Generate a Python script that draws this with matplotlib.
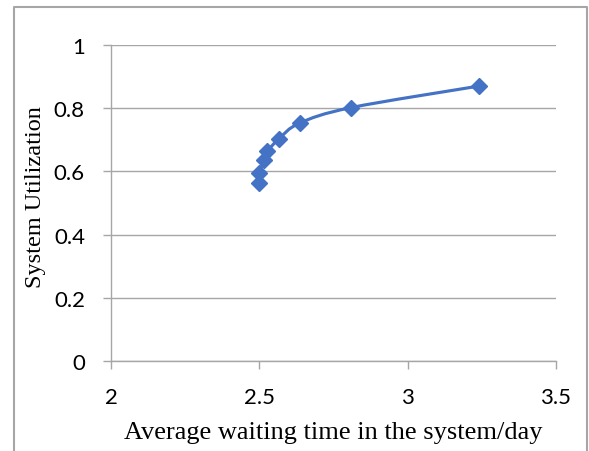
import matplotlib
matplotlib.use('Agg')
import matplotlib.pyplot as plt
from matplotlib.path import Path
from matplotlib.patches import PathPatch
from matplotlib.lines import Line2D
import numpy as np

# waiting time (days) vs utilization
waiting_time = [2.50, 2.50, 2.517, 2.527, 2.566, 2.636, 2.81, 3.24]
utilization = [0.563, 0.595, 0.636, 0.663, 0.703, 0.753, 0.802, 0.870]

x_ticks = [2, 2.5, 3, 3.5]
y_ticks = [0, 0.2, 0.4, 0.6, 0.8, 1]

blue = '#4472C4'
grey = '#A6A6A6'

fig = plt.figure(figsize=(5.89, 4.52), dpi=100)
ax = fig.add_axes([111/589, 90/452, 445/589, 316/452])

# excel style smoothed line: cubic bezier segments through the points
pts = np.column_stack([waiting_time, utilization])
verts = [pts[0]]
codes = [Path.MOVETO]
for i in range(len(pts) - 1):
    p0 = pts[i - 1] if i > 0 else pts[i]
    p1 = pts[i]
    p2 = pts[i + 1]
    p3 = pts[i + 2] if i + 2 < len(pts) else pts[i + 1]
    c1 = p1 + (p2 - p0) / 6.0
    c2 = p2 - (p3 - p1) / 6.0
    verts += [c1, c2, p2]
    codes += [Path.CURVE4] * 3
ax.add_patch(PathPatch(Path(verts, codes), fill=False, edgecolor=blue,
                       linewidth=2.25, zorder=3))
ax.plot(waiting_time, utilization, linestyle='none', marker='D',
        markersize=8, color=blue, zorder=4)

ax.set_xlim(2, 3.5)
ax.set_ylim(0, 1)
ax.set_xticks(x_ticks)
ax.set_yticks(y_ticks)
ax.set_xticklabels(['2', '2.5', '3', '3.5'])
ax.set_yticklabels(['0', '0.2', '0.4', '0.6', '0.8', '1'])
ax.grid(axis='y', color=grey, linewidth=1.0)
ax.set_axisbelow(True)

for s in ['top', 'right']:
    ax.spines[s].set_visible(False)
for s in ['left', 'bottom']:
    ax.spines[s].set_color(grey)
    ax.spines[s].set_linewidth(1.0)

ax.tick_params(axis='both', color=grey, length=5.8, width=1.0,
               labelsize=16, labelcolor='black')
ax.tick_params(axis='y', pad=13)
ax.tick_params(axis='x', pad=13)
for lab in ax.get_xticklabels() + ax.get_yticklabels():
    lab.set_family('Lato')

ax.set_xlabel('Average waiting time in the system/day', family='Liberation Serif',
              fontsize=19, labelpad=10)
ax.set_ylabel('System Utilization', family='Liberation Serif', fontsize=17.5)
ax.yaxis.set_label_coords(-0.146, 0.522)

# chart frame (bottom edge is cut off in the reference)
x0, x1, yt = 13.5/589, 586.5/589, 1 - 7.5/452
fig.add_artist(Line2D([x0, x0, x1, x1], [0, yt, yt, 0], color=grey,
                      linewidth=1.5, transform=fig.transFigure))

fig.savefig('out.png', dpi=100)
